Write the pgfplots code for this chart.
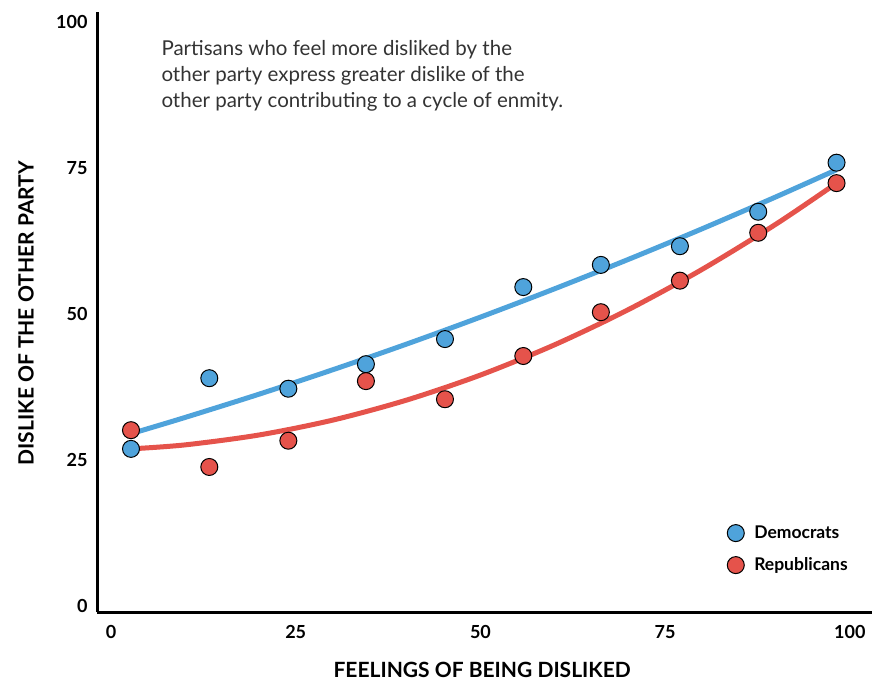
\documentclass[border=0pt]{standalone}
\usepackage{pgfplots}
\pgfplotsset{compat=1.18}
\usepackage{fontspec}
\setmainfont{Lato}
\definecolor{demblue}{HTML}{4FA3DB}
\definecolor{repred}{HTML}{E5534B}
\definecolor{notegray}{HTML}{333333}

\begin{document}
\begin{tikzpicture}[x=1pt,y=1pt]
\useasboundingbox (0,0) rectangle (880,682);
\begin{axis}[
    at={(97pt,70pt)}, anchor=south west,
    scale only axis, width=775pt, height=600pt,
    xmin=-1.9, xmax=103, ymin=-1.03, ymax=101.7,
    axis x line=bottom, axis y line=left,
    axis line style={-, line width=3pt, black},
    xtick={0,25,50,75,100}, ytick={0,25,50,75,100},
    major tick length=0pt,
    tick label style={font=\fontsize{18}{18}\selectfont\bfseries},
    xticklabel style={yshift=-10pt},
    yticklabel style={xshift=-6pt},
    /pgf/number format/assume math mode=true,
    xlabel={FEELINGS OF BEING DISLIKED},
    ylabel={DISLIKE OF THE OTHER PARTY},
    label style={font=\fontsize{21}{21}\selectfont\bfseries},
    x label style={at={(axis description cs:0.497,-0.0967)}, anchor=center},
    y label style={at={(axis description cs:-0.0915,0.498)}, anchor=center, rotate=0},
    clip=false,
    legend style={at={(axis description cs:0.813,0.146)}, anchor=north west,
        draw=none, fill=none, inner sep=0pt, row sep=15pt,
        font=\fontsize{17.5}{17.5}\selectfont\bfseries,
        nodes={inner sep=0pt}, column sep=10pt},
    legend cell align=left,
    legend image code/.code={\draw[#1] plot coordinates {(0pt,0pt)};},
]
% fitted curves
\addplot[demblue, line width=5pt, smooth, forget plot] coordinates {
    (2.7,29.50) (10,32.27) (20,36.25) (30,40.44) (40,44.84) (50,49.46)
    (60,54.29) (70,59.33) (80,64.58) (90,70.05) (98.2,74.69)
};
\addplot[repred, line width=5pt, smooth, forget plot] coordinates {
    (2.7,26.90) (10,27.58) (20,29.27) (30,31.82) (40,35.25) (50,39.54)
    (60,44.70) (70,50.73) (80,57.63) (90,65.38) (98.2,72.40)
};
% observed points
\addplot[only marks, mark=*, mark size=8.5pt,
    mark options={fill=demblue, draw=black, line width=1pt}] coordinates {
    (2.7,26.9) (13.3,39.0) (24.0,37.2) (34.5,41.4) (45.2,45.7)
    (55.8,54.6) (66.3,58.4) (77.0,61.6) (87.6,67.5) (98.2,75.9)
};
\addlegendentry{Democrats}
\addplot[only marks, mark=*, mark size=8.5pt,
    mark options={fill=repred, draw=black, line width=1pt}] coordinates {
    (2.7,30.1) (13.3,23.8) (24.0,28.3) (34.5,38.5) (45.2,35.4)
    (55.8,42.8) (66.3,50.3) (77.0,55.7) (87.6,63.9) (98.2,72.4)
};
\addlegendentry{Republicans}
\node[anchor=north west, align=left, inner sep=0pt, text=notegray,
    font=\fontsize{20.5}{25.7}\selectfont]
    at (rel axis cs:0.083,0.9525)
    {Partisans who feel more disliked by the\\
     other party express greater dislike of the\\
     other party contributing to a cycle of enmity.};
\end{axis}
\end{tikzpicture}
\end{document}
